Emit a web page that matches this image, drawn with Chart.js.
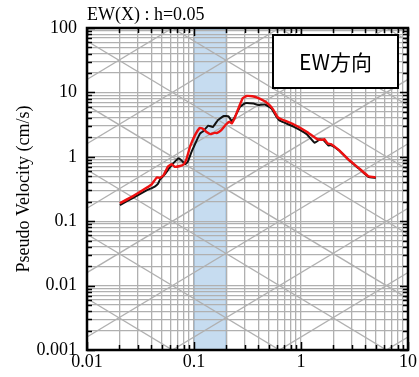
<!DOCTYPE html>
<html>
<head>
<meta charset="utf-8">
<script src="https://cdn.jsdelivr.net/npm/chart.js@4/dist/chart.umd.min.js"></script>
<style>
  html, body { margin: 0; padding: 0; background: #fff; }
  #wrap { width: 419px; height: 377px; }
</style>
</head>
<body>
<div id="wrap"><canvas id="sv"></canvas></div>
<script>
// period (s) / pseudo velocity (cm/s)
const blackPeriod = [0.0203, 0.027, 0.036, 0.043, 0.046, 0.048, 0.054, 0.060, 0.068, 0.072, 0.078, 0.082, 0.087, 0.095, 0.106, 0.114, 0.122, 0.136, 0.150, 0.168, 0.19, 0.21, 0.225, 0.238, 0.255, 0.27, 0.30, 0.36, 0.40, 0.46, 0.53, 0.60, 0.64, 0.85, 1.13, 1.34, 1.5, 1.62, 1.8, 1.9, 2.25, 2.86, 3.5, 4.25, 5.0];
const blackVel = [0.178, 0.23, 0.30, 0.345, 0.38, 0.44, 0.55, 0.70, 0.88, 0.95, 0.85, 0.77, 0.82, 1.2, 1.8, 2.3, 2.5, 3.05, 2.9, 3.75, 4.3, 4.25, 3.6, 4.0, 5.0, 6.0, 6.8, 6.7, 6.4, 6.5, 5.6, 4.0, 3.6, 2.95, 2.25, 1.65, 1.87, 1.82, 1.5, 1.52, 1.27, 0.86, 0.65, 0.49, 0.47];

const redPeriod = [0.0203, 0.027, 0.036, 0.040, 0.045, 0.048, 0.052, 0.057, 0.062, 0.066, 0.074, 0.080, 0.085, 0.092, 0.102, 0.113, 0.120, 0.130, 0.142, 0.155, 0.165, 0.18, 0.20, 0.215, 0.225, 0.24, 0.255, 0.27, 0.285, 0.31, 0.35, 0.39, 0.45, 0.50, 0.55, 0.60, 0.64, 0.85, 1.13, 1.4, 1.56, 1.65, 1.78, 1.9, 2.25, 2.86, 3.5, 4.25, 5.0];
const redVel = [0.19, 0.245, 0.33, 0.37, 0.48, 0.47, 0.52, 0.70, 0.77, 0.70, 0.72, 0.76, 0.92, 1.45, 2.15, 2.8, 2.75, 2.45, 2.25, 2.35, 2.35, 2.6, 3.2, 3.5, 3.3, 4.0, 5.2, 6.6, 8.1, 8.8, 8.7, 8.3, 7.4, 6.5, 5.4, 4.2, 3.9, 3.2, 2.45, 1.9, 1.83, 1.88, 1.6, 1.58, 1.28, 0.87, 0.66, 0.50, 0.48];

const xTickLabels = ['0.01', '0.1', '1', '10'];
const yTickLabels = ['0.001', '0.01', '0.1', '1', '10', '100'];
const bandRange = [0.1, 0.2];
const dispLevels = [1e-5, 1e-4, 1e-3, 1e-2, 1e-1, 1, 10, 100];   // cm
const accLevels = [1e-3, 1e-2, 1e-1, 1, 10, 100, 1000, 10000];  // cm/s2

const X_MIN = 0.01, X_MAX = 10, Y_MIN = 0.001, Y_MAX = 100;
const GRID = '#b0b0b0';
const SERIF = '"Liberation Serif", "DejaVu Serif", serif';

function logTicks(min, max) {
    let out = [];
    for (let e = Math.round(Math.log10(min)); e < Math.round(Math.log10(max)); e++) {
        for (let s = 1; s < 10; s++) out.push(parseFloat((s * Math.pow(10, e)).toPrecision(3)));
    }
    out.push(max);
    return out;
}

function isDecade(v) {
    let l = Math.log10(v);
    return Math.abs(l - Math.round(l)) < 1e-9;
}

function pts(xs, ys) {
    return xs.map((x, i) => ({ x: x, y: ys[i] }));
}

// tripartite diagonals: constant displacement and constant acceleration
let diagSets = [];
dispLevels.forEach((d) => {
    diagSets.push({
        data: [X_MIN, X_MAX].map((t) => ({ x: t, y: 2 * Math.PI * d / t })),
        borderColor: GRID, borderWidth: 1.3, pointRadius: 0, clip: 0
    });
});
accLevels.forEach((a) => {
    diagSets.push({
        data: [X_MIN, X_MAX].map((t) => ({ x: t, y: a * t / (2 * Math.PI) })),
        borderColor: GRID, borderWidth: 1.3, pointRadius: 0, clip: 0
    });
});

// blue period band, behind the grid
const bandPlugin = {
    id: 'band',
    beforeDraw(chart) {
        let ctx = chart.ctx, a = chart.chartArea, xs = chart.scales.x;
        let x0 = xs.getPixelForValue(bandRange[0]), x1 = xs.getPixelForValue(bandRange[1]);
        ctx.save();
        ctx.fillStyle = '#ffffff';
        ctx.fillRect(0, 0, chart.width, chart.height);
        ctx.fillStyle = '#c6dcf0';
        ctx.fillRect(x0, a.top, x1 - x0, a.bottom - a.top);
        ctx.strokeStyle = '#8fb2d4';
        ctx.lineWidth = 1.2;
        ctx.beginPath();
        ctx.moveTo(x0, a.top); ctx.lineTo(x0, a.bottom);
        ctx.moveTo(x1, a.top); ctx.lineTo(x1, a.bottom);
        ctx.stroke();
        ctx.restore();
    }
};

// frame, inside ticks, title and the label box
const framePlugin = {
    id: 'frame',
    afterDraw(chart) {
        let ctx = chart.ctx, a = chart.chartArea;
        let xs = chart.scales.x, ys = chart.scales.y;
        ctx.save();
        ctx.strokeStyle = '#000';
        ctx.lineWidth = 1.5;
        ctx.beginPath();
        xs.ticks.forEach((t) => {
            let p = Math.round(xs.getPixelForValue(t.value)) + 0.5;
            let len = isDecade(t.value) ? 8 : 5;
            ctx.moveTo(p, a.bottom); ctx.lineTo(p, a.bottom - len);
            ctx.moveTo(p, a.top); ctx.lineTo(p, a.top + len);
        });
        ys.ticks.forEach((t) => {
            let p = Math.round(ys.getPixelForValue(t.value)) + 0.5;
            let len = isDecade(t.value) ? 8 : 5;
            ctx.moveTo(a.left, p); ctx.lineTo(a.left + len, p);
            ctx.moveTo(a.right, p); ctx.lineTo(a.right - len, p);
        });
        ctx.stroke();
        ctx.lineWidth = 2.5;
        ctx.strokeRect(a.left, a.top, a.right - a.left, a.bottom - a.top);

        ctx.fillStyle = '#000';
        ctx.font = '18px ' + SERIF;
        ctx.textBaseline = 'alphabetic';
        ctx.textAlign = 'left';
        ctx.fillText('EW(X) : h=0.05', a.left, 20);

        // label box
        ctx.fillStyle = '#fff';
        ctx.fillRect(273, 35, 125, 53);
        ctx.lineWidth = 2;
        ctx.strokeRect(273, 35, 125, 53);
        ctx.fillStyle = '#000';
        ctx.font = '21px "Noto Sans CJK JP", sans-serif';
        ctx.textAlign = 'center';
        ctx.textBaseline = 'middle';
        ctx.fillText('EW方向', 335.5, 62);
        ctx.restore();
    }
};

new Chart(document.getElementById('sv'), {
    type: 'line',
    data: {
        datasets: [
            { data: pts(redPeriod, redVel), borderColor: '#ee1111', borderWidth: 2.4, pointRadius: 0, tension: 0.1, clip: 0 },
            { data: pts(blackPeriod, blackVel), borderColor: '#111111', borderWidth: 2, pointRadius: 0, tension: 0.1, clip: 0 }
        ].concat(diagSets)
    },
    options: {
        responsive: true,
        maintainAspectRatio: false,
        animation: false,
        events: [],
        layout: { padding: { left: 0, right: 11, top: 28, bottom: 0 } },
        plugins: { legend: { display: false }, tooltip: { enabled: false } },
        scales: {
            x: {
                type: 'logarithmic',
                min: X_MIN, max: X_MAX,
                afterBuildTicks: (scale) => { scale.ticks = logTicks(X_MIN, X_MAX).map((v) => ({ value: v })); },
                afterFit: (scale) => { scale.height = 27; },
                grid: { color: GRID, lineWidth: 1.3, drawTicks: false },
                border: { display: false },
                ticks: {
                    autoSkip: false, maxRotation: 0, minRotation: 0, padding: 1,
                    color: '#000', font: { family: SERIF, size: 18 },
                    callback: (v) => isDecade(v) ? xTickLabels[Math.round(Math.log10(v / X_MIN))] : ''
                }
            },
            y: {
                type: 'logarithmic',
                min: Y_MIN, max: Y_MAX,
                afterBuildTicks: (scale) => { scale.ticks = logTicks(Y_MIN, Y_MAX).map((v) => ({ value: v })); },
                afterFit: (scale) => { scale.width = 87; },
                grid: { color: GRID, lineWidth: 1.3, drawTicks: false },
                border: { display: false },
                title: {
                    display: true, text: 'Pseudo Velocity (cm/s)', color: '#000',
                    font: { family: SERIF, size: 18 }, padding: { top: 13, bottom: 0 }
                },
                ticks: {
                    autoSkip: false, padding: 10,
                    color: '#000', font: { family: SERIF, size: 18 },
                    callback: (v) => isDecade(v) ? yTickLabels[Math.round(Math.log10(v / Y_MIN))] : ''
                }
            }
        }
    },
    plugins: [bandPlugin, framePlugin]
});
</script>
</body>
</html>
